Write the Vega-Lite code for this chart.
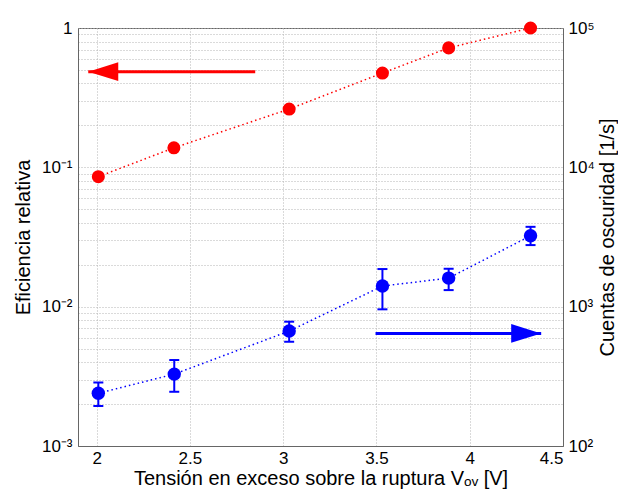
{
  "$schema": "https://vega.github.io/schema/vega-lite/v6.json",
  "width": 485,
  "height": 418,
  "autosize": {"type": "none"},
  "padding": {"left": 78, "top": 28, "right": 55, "bottom": 43},
  "background": "white",
  "config": {
    "view": {"stroke": "#666666", "strokeWidth": 1},
    "font": "Liberation Sans",
    "axis": {
      "labelFont": "Liberation Sans",
      "titleFont": "Liberation Sans",
      "labelFontSize": 17,
      "titleFontSize": 20,
      "titleFontWeight": "normal",
      "labelColor": "black",
      "titleColor": "black",
      "domainColor": "#666666",
      "ticks": false,
      "gridColor": "#b4b4b4",
      "gridDash": [1, 2],
      "gridOpacity": 1,
      "gridWidth": 1
    }
  },
  "resolve": {"scale": {"y": "independent"}},
  "layer": [
    {
      "data": {"values": [
        {"v": 2.009, "ef": 0.0857},
        {"v": 2.414, "ef": 0.138},
        {"v": 3.032, "ef": 0.262},
        {"v": 3.532, "ef": 0.475},
        {"v": 3.887, "ef": 0.72},
        {"v": 4.326, "ef": 1.0}
      ]},
      "encoding": {
        "x": {
          "field": "v", "type": "quantitative",
          "scale": {"domain": [1.9, 4.5], "nice": false, "zero": false},
          "axis": {
            "title": "Tensión en exceso sobre la ruptura Vₒᵥ [V]",
            "values": [2, 2.5, 3, 3.5, 4, 4.5],
            "format": "~g",
            "grid": true,
            "labelPadding": 4,
            "titlePadding": 2,
            "labelFlush": true
          }
        },
        "y": {
          "field": "ef", "type": "quantitative",
          "scale": {"type": "log", "domain": [0.001, 1], "nice": false},
          "axis": {
            "title": "Eficiencia relativa",
            "orient": "left",
            "values": [0.001, 0.002, 0.003, 0.004, 0.005, 0.006, 0.007, 0.008, 0.009, 0.01, 0.02, 0.03, 0.04, 0.05, 0.06, 0.07, 0.08, 0.09, 0.1, 0.2, 0.3, 0.4, 0.5, 0.6, 0.7, 0.8, 0.9, 1],
            "labelExpr": "datum.value == 1 ? '1' : datum.value == 0.1 ? '10⁻¹' : datum.value == 0.01 ? '10⁻²' : datum.value == 0.001 ? '10⁻³' : ''",
            "grid": true,
            "labelPadding": 6,
            "titlePadding": 8
          }
        }
      },
      "layer": [
        {"mark": {"type": "line", "color": "#ff0000", "strokeWidth": 1.5, "strokeDash": [1.5, 3]}},
        {"mark": {"type": "point", "shape": "circle", "filled": true, "color": "#ff0000", "size": 170, "opacity": 1}},
        {
          "data": {"values": [{"v": 1.955, "v2": 2.85, "ef": 0.486}]},
          "mark": {"type": "rule", "color": "#ff0000", "strokeWidth": 3},
          "encoding": {"x2": {"field": "v2"}}
        },
        {
          "data": {"values": [{"v": 1.955, "v2": 2.85, "ef": 0.486}]},
          "mark": {"type": "point", "shape": "M 0 0 L 2 -0.63 L 2 0.63 Z", "filled": true, "color": "#ff0000", "size": 900, "opacity": 1}
        }
      ]
    },
    {
      "data": {"values": [
        {"v": 2.009, "dc": 239, "lo": 194, "hi": 286},
        {"v": 2.416, "dc": 328, "lo": 245, "hi": 414},
        {"v": 3.032, "dc": 668, "lo": 560, "hi": 780},
        {"v": 3.532, "dc": 1406, "lo": 957, "hi": 1862},
        {"v": 3.887, "dc": 1603, "lo": 1315, "hi": 1871},
        {"v": 4.326, "dc": 3228, "lo": 2767, "hi": 3741}
      ]},
      "encoding": {
        "x": {
          "field": "v", "type": "quantitative",
          "scale": {"domain": [1.9, 4.5], "nice": false, "zero": false},
          "axis": {
            "title": "Tensión en exceso sobre la ruptura Vₒᵥ [V]",
            "values": [2, 2.5, 3, 3.5, 4, 4.5],
            "format": "~g",
            "grid": true,
            "labelPadding": 4,
            "titlePadding": 2,
            "labelFlush": true
          }
        },
        "y": {
          "field": "dc", "type": "quantitative",
          "scale": {"type": "log", "domain": [100, 100000], "nice": false},
          "axis": {
            "title": "Cuentas de oscuridad [1/s]",
            "orient": "right",
            "values": [100, 1000, 10000, 100000],
            "labelExpr": "'10' + (datum.value == 100 ? '²' : datum.value == 1000 ? '³' : datum.value == 10000 ? '⁴' : '⁵')",
            "grid": false,
            "labelPadding": 5,
            "titlePadding": 3,
            "titleAngle": 270,
            "titleBaseline": "top"
          }
        }
      },
      "layer": [
        {"mark": {"type": "line", "color": "#0000ff", "strokeWidth": 1.5, "strokeDash": [1.5, 3]}},
        {
          "mark": {"type": "rule", "color": "#0000ff", "strokeWidth": 2},
          "encoding": {
            "y": {"field": "lo", "type": "quantitative", "scale": {"type": "log", "domain": [100, 100000], "nice": false},
              "axis": {
                "title": "Cuentas de oscuridad [1/s]",
                "orient": "right",
                "values": [100, 1000, 10000, 100000],
                "labelExpr": "'10' + (datum.value == 100 ? '²' : datum.value == 1000 ? '³' : datum.value == 10000 ? '⁴' : '⁵')",
                "grid": false,
                "labelPadding": 5,
                "titlePadding": 3,
                "titleAngle": 270,
                "titleBaseline": "top"
              }},
            "y2": {"field": "hi"}
          }
        },
        {
          "mark": {"type": "tick", "orient": "horizontal", "color": "#0000ff", "thickness": 2, "size": 10, "opacity": 1},
          "encoding": {
            "y": {"field": "lo", "type": "quantitative", "scale": {"type": "log", "domain": [100, 100000], "nice": false},
              "axis": {
                "title": "Cuentas de oscuridad [1/s]",
                "orient": "right",
                "values": [100, 1000, 10000, 100000],
                "labelExpr": "'10' + (datum.value == 100 ? '²' : datum.value == 1000 ? '³' : datum.value == 10000 ? '⁴' : '⁵')",
                "grid": false,
                "labelPadding": 5,
                "titlePadding": 3,
                "titleAngle": 270,
                "titleBaseline": "top"
              }}
          }
        },
        {
          "mark": {"type": "tick", "orient": "horizontal", "color": "#0000ff", "thickness": 2, "size": 10, "opacity": 1},
          "encoding": {
            "y": {"field": "hi", "type": "quantitative", "scale": {"type": "log", "domain": [100, 100000], "nice": false},
              "axis": {
                "title": "Cuentas de oscuridad [1/s]",
                "orient": "right",
                "values": [100, 1000, 10000, 100000],
                "labelExpr": "'10' + (datum.value == 100 ? '²' : datum.value == 1000 ? '³' : datum.value == 10000 ? '⁴' : '⁵')",
                "grid": false,
                "labelPadding": 5,
                "titlePadding": 3,
                "titleAngle": 270,
                "titleBaseline": "top"
              }}
          }
        },
        {"mark": {"type": "point", "shape": "circle", "filled": true, "color": "#0000ff", "size": 180, "opacity": 1}},
        {
          "data": {"values": [{"v": 4.383, "v2": 3.495, "dc": 643}]},
          "mark": {"type": "rule", "color": "#0000ff", "strokeWidth": 3},
          "encoding": {"x2": {"field": "v2"}}
        },
        {
          "data": {"values": [{"v": 4.383, "v2": 3.495, "dc": 643}]},
          "mark": {"type": "point", "shape": "M 0 0 L -2 -0.63 L -2 0.63 Z", "filled": true, "color": "#0000ff", "size": 900, "opacity": 1}
        }
      ]
    }
  ]
}
